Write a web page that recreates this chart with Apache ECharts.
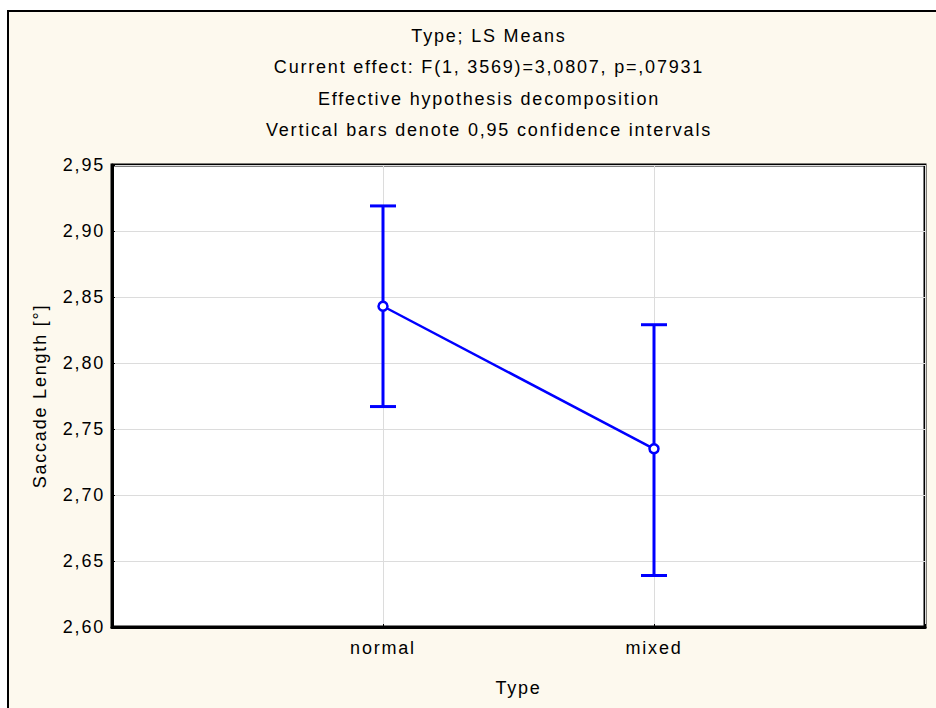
<!DOCTYPE html>
<html>
<head>
<meta charset="utf-8">
<script src="https://cdn.jsdelivr.net/npm/echarts@6/dist/echarts.min.js"></script>
<style>
  html, body { margin: 0; padding: 0; background: #fff; }
  #chart { width: 936px; height: 708px; }
  /* Statistica-style spaced lettering */
  #chart svg text { letter-spacing: 1.8px; }
</style>
</head>
<body>
<div id="chart"></div>
<script>
// categories and LS means with 0.95 CI
const categories = ['normal', 'mixed']
const means = [2.843, 2.735]
const ciLow = [2.767, 2.639]
const ciHigh = [2.919, 2.829]
const yTicks = [2.60, 2.65, 2.70, 2.75, 2.80, 2.85, 2.90, 2.95]

const titleLines = [
  'Type; LS Means',
  'Current effect: F(1, 3569)=3,0807, p=,07931',
  'Effective hypothesis decomposition',
  'Vertical bars denote 0,95 confidence intervals'
]

const font = 'Liberation Sans, Arial, sans-serif'
const blue = '#0000ff'

const chart = echarts.init(document.getElementById('chart'), null, { renderer: 'svg' })

chart.setOption({
  backgroundColor: '#fff',
  animation: false,
  graphic: [
    {
      type: 'rect',
      z: -10,
      shape: { x: 8, y: 11, width: 980, height: 740 },
      style: { fill: '#fdf9ee', stroke: '#000', lineWidth: 2 }
    },
    {
      type: 'text',
      x: 489,
      y: 20,
      style: {
        text: titleLines.join('\n'),
        textAlign: 'center',
        textVerticalAlign: 'top',
        font: '18px ' + font,
        lineHeight: 31.5,
        fill: '#000'
      }
    }
  ],
  grid: {
    left: 112, right: 11, top: 165, bottom: 81,
    show: true, backgroundColor: '#fff', borderColor: '#000', borderWidth: 3
  },
  xAxis: {
    type: 'value',
    min: 0, max: categories.length + 1, interval: 1,
    name: 'Type',
    nameLocation: 'middle',
    nameGap: 52,
    nameTextStyle: { fontFamily: font, fontSize: 18, color: '#000' },
    axisLine: { lineStyle: { color: '#000', width: 3 } },
    axisTick: { show: true, inside: true, length: 3, lineStyle: { color: '#000' } },
    axisLabel: {
      margin: 12,
      fontFamily: font, fontSize: 18, color: '#000',
      formatter: v => categories[v - 1] || ''
    },
    splitLine: { show: true, lineStyle: { color: '#dcdcdc', width: 1 } }
  },
  yAxis: {
    type: 'value',
    min: yTicks[0], max: yTicks[yTicks.length - 1], interval: 0.05,
    name: 'Saccade Length [°]',
    nameLocation: 'middle',
    nameGap: 63,
    nameTextStyle: { fontFamily: font, fontSize: 18, color: '#000' },
    axisLine: { show: true, lineStyle: { color: '#000', width: 3 } },
    axisTick: { show: true, inside: true, length: 3, lineStyle: { color: '#000' } },
    axisLabel: {
      margin: 7,
      fontFamily: font, fontSize: 18, color: '#000',
      formatter: v => v.toFixed(2).replace('.', ',')
    },
    splitLine: { show: true, lineStyle: { color: '#dcdcdc', width: 1 } }
  },
  series: [
    {
      type: 'custom',
      z: 3,
      data: categories.map((c, i) => [i + 1, ciLow[i], ciHigh[i]]),
      renderItem: (params, api) => {
        const lo = api.coord([api.value(0), api.value(1)])
        const hi = api.coord([api.value(0), api.value(2)])
        const w = 13
        const style = { stroke: blue, lineWidth: 3 }
        return {
          type: 'group',
          children: [
            { type: 'line', shape: { x1: lo[0], y1: lo[1], x2: hi[0], y2: hi[1] }, style },
            { type: 'line', shape: { x1: hi[0] - w, y1: hi[1], x2: hi[0] + w, y2: hi[1] }, style },
            { type: 'line', shape: { x1: lo[0] - w, y1: lo[1], x2: lo[0] + w, y2: lo[1] }, style }
          ]
        }
      }
    },
    {
      type: 'line',
      z: 4,
      data: categories.map((c, i) => [i + 1, means[i]]),
      symbol: 'circle',
      symbolSize: 9,
      itemStyle: { color: '#fff', borderColor: blue, borderWidth: 2.5 },
      lineStyle: { color: blue, width: 2.5 }
    }
  ]
})
</script>
</body>
</html>
